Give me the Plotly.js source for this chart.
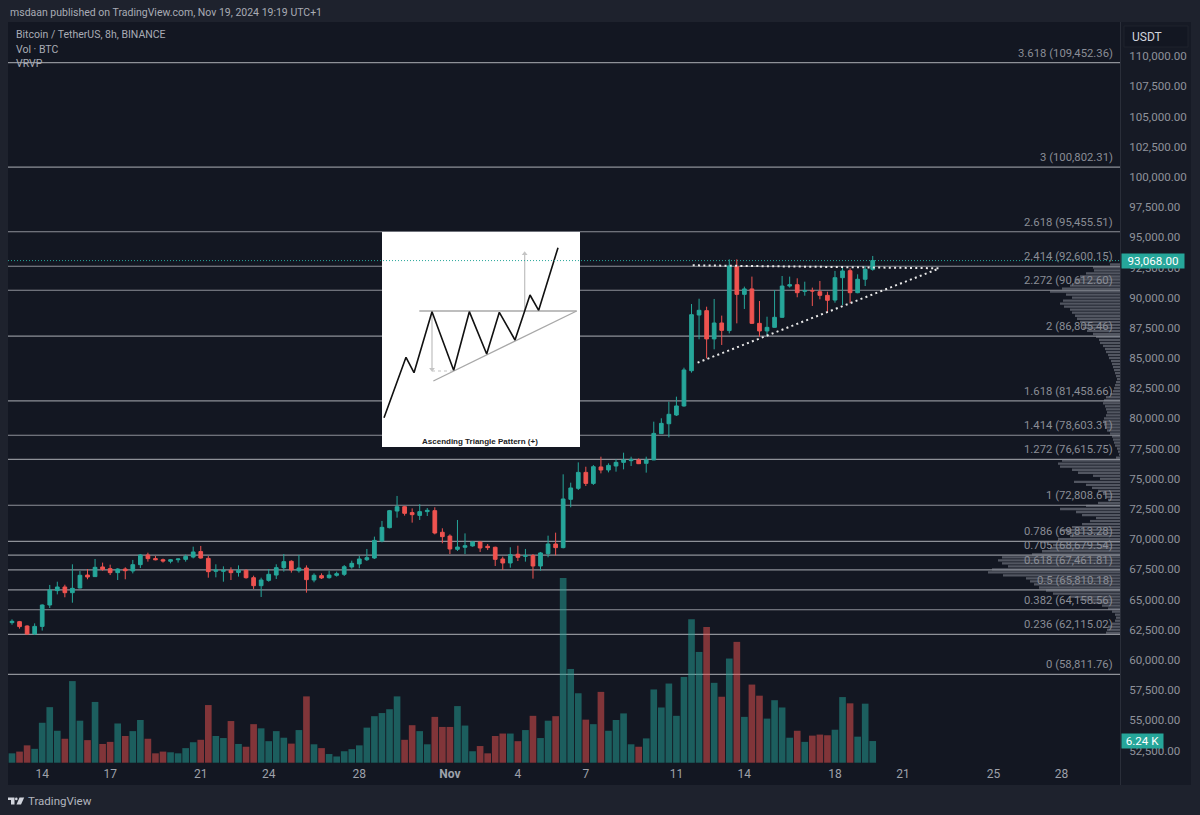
<!DOCTYPE html>
<html><head><meta charset="utf-8">
<script src="https://cdn.plot.ly/plotly-3.0.1.min.js"></script>
<style>html,body{margin:0;padding:0;background:#1e222d}#c{width:1200px;height:815px}</style></head>
<body><div id="c"></div>
<script>
const dates=["2024-10-12 16:00",
"2024-10-13 00:00","2024-10-13 08:00","2024-10-13 16:00","2024-10-14 00:00","2024-10-14 08:00","2024-10-14 16:00",
"2024-10-15 00:00","2024-10-15 08:00","2024-10-15 16:00","2024-10-16 00:00","2024-10-16 08:00","2024-10-16 16:00",
"2024-10-17 00:00","2024-10-17 08:00","2024-10-17 16:00","2024-10-18 00:00","2024-10-18 08:00","2024-10-18 16:00",
"2024-10-19 00:00","2024-10-19 08:00","2024-10-19 16:00","2024-10-20 00:00","2024-10-20 08:00","2024-10-20 16:00",
"2024-10-21 00:00","2024-10-21 08:00","2024-10-21 16:00","2024-10-22 00:00","2024-10-22 08:00","2024-10-22 16:00",
"2024-10-23 00:00","2024-10-23 08:00","2024-10-23 16:00","2024-10-24 00:00","2024-10-24 08:00","2024-10-24 16:00",
"2024-10-25 00:00","2024-10-25 08:00","2024-10-25 16:00","2024-10-26 00:00","2024-10-26 08:00","2024-10-26 16:00",
"2024-10-27 00:00","2024-10-27 08:00","2024-10-27 16:00","2024-10-28 00:00","2024-10-28 08:00","2024-10-28 16:00",
"2024-10-29 00:00","2024-10-29 08:00","2024-10-29 16:00","2024-10-30 00:00","2024-10-30 08:00","2024-10-30 16:00",
"2024-10-31 00:00","2024-10-31 08:00","2024-10-31 16:00","2024-11-01 00:00","2024-11-01 08:00","2024-11-01 16:00",
"2024-11-02 00:00","2024-11-02 08:00","2024-11-02 16:00","2024-11-03 00:00","2024-11-03 08:00","2024-11-03 16:00",
"2024-11-04 00:00","2024-11-04 08:00","2024-11-04 16:00","2024-11-05 00:00","2024-11-05 08:00","2024-11-05 16:00",
"2024-11-06 00:00","2024-11-06 08:00","2024-11-06 16:00","2024-11-07 00:00","2024-11-07 08:00","2024-11-07 16:00",
"2024-11-08 00:00","2024-11-08 08:00","2024-11-08 16:00","2024-11-09 00:00","2024-11-09 08:00","2024-11-09 16:00",
"2024-11-10 00:00","2024-11-10 08:00","2024-11-10 16:00","2024-11-11 00:00","2024-11-11 08:00","2024-11-11 16:00",
"2024-11-12 00:00","2024-11-12 08:00","2024-11-12 16:00","2024-11-13 00:00","2024-11-13 08:00","2024-11-13 16:00",
"2024-11-14 00:00","2024-11-14 08:00","2024-11-14 16:00","2024-11-15 00:00","2024-11-15 08:00","2024-11-15 16:00",
"2024-11-16 00:00","2024-11-16 08:00","2024-11-16 16:00","2024-11-17 00:00","2024-11-17 08:00","2024-11-17 16:00",
"2024-11-18 00:00","2024-11-18 08:00","2024-11-18 16:00","2024-11-19 00:00","2024-11-19 08:00","2024-11-19 16:00"];
const opens=[63090,63170,62810,62150,62780,64550,65740,66040,65570,65960,67030,66900,67700,67560,67230,67530,67370,67890,68690,68390,68300,68170,68300,68330,68520,68970,68410,67340,67340,67420,67250,67420,66810,66150,66590,67030,67640,68170,67390,67610,66620,66980,66810,67010,67090,67700,67950,68300,68440,69850,70950,72330,72690,72200,71970,72280,72360,70570,70260,69160,69330,69440,69770,69410,69330,68360,68030,68750,68580,68640,67780,68800,69600,69300,73300,74210,75530,74620,75980,75730,76060,76360,76500,76560,76280,76560,78740,79560,80280,81030,83950,88560,88920,86580,87900,87270,92560,90270,90720,87870,87240,87540,88370,90960,91070,90520,90580,90490,90190,89800,91650,92230,90410,91520,92340];
const highs=[63360,63230,62870,63030,64600,66210,66480,66230,67920,67370,67530,68360,68060,67890,67590,67670,68280,68770,68880,68610,68390,68360,68390,68720,69380,69440,68610,67920,67750,67670,67830,67500,66980,66810,67530,67920,68770,68250,68690,67830,67170,67170,67390,67310,67860,68220,68610,69190,70210,71510,72420,73580,72750,72550,72890,72580,72640,70900,70400,71590,70480,69850,69820,69600,69380,68550,69330,69460,69190,68770,68940,70290,70540,75370,74680,76360,76000,76140,76830,76280,76610,77160,76830,76690,76830,79730,80010,81390,81800,84200,89470,89910,89250,89890,88510,93170,93170,90910,91740,89720,88420,90630,91790,91740,91600,91320,90830,91380,90490,92210,92510,92430,91930,92620,93450];
const lows=[62920,62590,62090,62070,62430,64300,65430,65190,64740,65930,66680,66870,67390,67030,66620,66680,67170,67610,68140,68250,68060,68000,68060,68140,68410,68390,66810,66840,66480,66620,66900,66730,65880,65210,66480,66700,67310,67230,67230,65570,66430,66700,66730,66900,66950,67560,67590,68190,68360,69740,70900,71780,71950,71370,71590,71920,70400,69660,68770,69020,68770,69380,68940,69100,67780,67450,67640,68190,68140,66730,67390,68500,68660,69240,72640,74070,74400,74490,75450,75530,75590,75780,76060,76220,75510,76550,78710,78430,80200,80970,83790,86550,84970,85720,86080,87040,87870,89060,87820,86770,86820,87510,88340,90830,90030,90160,89310,89860,88760,89580,89390,89530,90360,90960,92230];
const closes=[63200,62760,62150,62780,64550,65790,66040,65570,65930,67010,66870,67670,67500,67230,67530,67390,67890,68690,68390,68300,68190,68300,68360,68580,68940,68440,67310,67450,67420,67230,67420,66810,66150,66620,67090,67640,68140,67450,67610,66650,67010,66790,67030,67140,67720,68000,68360,68470,69900,70980,72360,72690,72140,72030,72280,72390,70510,70210,69190,69350,69460,69770,69270,69300,68330,68030,68720,68500,68640,67780,68860,69600,69300,73330,74240,75530,74620,76000,75730,76110,76360,76560,76610,76250,76560,78760,79590,80340,81030,84010,88590,88950,86580,87900,87290,92620,90270,90720,87870,87240,87540,88370,90960,91070,90410,90580,90550,90190,89780,91650,92210,90410,91520,92340,93068];
const volumeK=[2.7,3.2,5.0,4.0,11.5,16.0,9.2,6.9,23.5,12.1,6.5,17.5,5.4,6.0,11.3,7.7,9.1,12.3,6.9,2.7,3.2,3.0,2.7,4.2,5.9,6.6,16.6,7.7,7.1,12.0,5.4,4.6,11.1,9.9,6.2,9.1,7.2,5.5,9.4,19.1,5.3,4.2,2.5,1.8,3.3,3.9,5.0,10.1,13.4,14.3,15.4,19.1,6.6,10.8,9.1,5.3,13.2,10.3,10.3,16.3,10.7,3.3,4.8,2.7,7.7,8.4,8.4,6.2,9.4,13.5,7.1,12.1,13.4,53.2,27.0,20.0,12.4,11.1,20.4,9.2,12.3,14.2,5.3,4.6,7.0,21.1,15.9,22.8,13.5,24.7,41.3,31.9,39.1,23.0,19.0,30.0,34.8,13.2,22.5,19.3,12.7,18.0,15.9,7.2,9.2,6.0,7.8,8.1,7.9,9.5,18.9,17.1,7.5,17.0,6.24];
const fibRatios=["3.618","3","2.618","2.414","2.272","2","1.618","1.414","1.272","1","0.786","0.705","0.618","0.5","0.382","0.236","0"];
const fibPrices=[109452.36,100802.31,95455.51,92600.15,90612.60,86805.46,81458.66,78603.31,76615.75,72808.61,69813.28,68679.54,67461.81,65810.18,64158.56,62115.02,58811.76];
const priceTicks=[52500,55000,57500,60000,62500,65000,67500,70000,72500,75000,77500,80000,82500,85000,87500,90000,92500,95000,97500,100000,102500,105000,107500,110000];
const tickDates=["2024-10-14","2024-10-17","2024-10-21","2024-10-24","2024-10-28","2024-11-01","2024-11-04","2024-11-07","2024-11-11","2024-11-14","2024-11-18","2024-11-21","2024-11-25","2024-11-28"];
const tickLabels=["14","17","21","24","28","<b>Nov</b>","4","7","11","14","18","21","25","28"];
const vpPrices=[92750,92500,92250,92000,91750,91500,91250,91000,90750,90500,90250,90000,89750,89500,89250,89000,88750,88500,88250,88000,87750,87500,87250,87000,86750,86500,86250,86000,85750,85500,85250,85000,84750,84500,84250,84000,83750,83500,83250,83000,82750,82500,82250,82000,81750,81500,81250,81000,80750,80500,80250,80000,79750,79500,79250,79000,78750,78500,78250,78000,77750,77500,77250,77000,76750,76500,76250,76000,75750,75500,75250,75000,74750,74500,74250,74000,73750,73500,73250,73000,72750,72500,72250,72000,71750,71500,71250,71000,70750,70500,70250,70000,69750,69500,69250,69000,68750,68500,68250,68000,67750,67500,67250,67000,66750,66500,66250,66000,65750,65500,65250,65000,64750,64500,64250,64000,63750,63500,63250,63000,62750,62500,62250];
const vpVolume=[10,27,26,34,40,44,46,50,58,70,54,48,57,60,56,50,48,45,43,40,38,37,33,27,24,21,20,17,15,14,12,11,9,8,7,6,5,4,3,4,5,6,7,10,14,16,17,15,14,13,14,16,17,16,15,13,10,8,7,6,5,3,2,1,4,58,62,60,48,42,27,20,46,34,28,22,17,14,12,22,34,60,44,38,24,30,38,48,60,54,50,62,80,67,70,78,88,118,122,118,112,128,132,117,94,90,86,81,74,67,50,40,28,18,12,8,5,4,5,8,12,13,14];
const trendTopX=["2024-11-11 17:15","2024-11-22 15:00"], trendTopY=[92677,92429];
const trendLowX=["2024-11-11 22:25","2024-11-22 13:00"], trendLowY=[84613,92371];
const insetPriceX=[27,93,117,171,236,283,335,373,420,465,491,549], insetPriceY=[578,397,443,260,436,260,387,262,345,210,256,68];
const insetTopX=[133,605], insetTopY=[258,258];
const insetLowX=[175,605], insetLowY=[468,258];
const insetDownX=[171,171], insetDownY=[262,432];
const insetDashX=[171,236], insetDashY=[438,438];
const insetUpX=[449,449], insetUpY=[258,86];

const TEAL='#26a69a', RED='#ef5350', FONT='Roboto, sans-serif';
const L=8,R=1120,T=22,B=765;
const px=x=>(x-L)/(R-L), py=y=>1-(y-T)/(B-T);
const barColors=closes.map((c,i)=>c>=opens[i]?'rgba(38,166,154,0.5)':'rgba(239,83,80,0.5)');
const hide={visible:false,fixedrange:true};

const traces=[
 {type:'bar',x:dates,y:volumeK,xaxis:'x',yaxis:'y',width:8*3600e3*0.88,marker:{color:barColors,line:{width:0}},hoverinfo:'skip',showlegend:false},
 {type:'bar',orientation:'h',x:vpVolume,y:vpPrices,xaxis:'x2',yaxis:'y2',width:190,marker:{color:'rgba(135,139,150,0.55)',line:{width:0}},hoverinfo:'skip',showlegend:false},
 {type:'candlestick',x:dates,open:opens,high:highs,low:lows,close:closes,xaxis:'x',yaxis:'y2',whiskerwidth:0,
  increasing:{line:{color:TEAL,width:1},fillcolor:TEAL},decreasing:{line:{color:RED,width:1},fillcolor:RED},hoverinfo:'skip',showlegend:false},
 {type:'scatter',mode:'lines',x:trendTopX,y:trendTopY,xaxis:'x',yaxis:'y2',line:{color:'#e8e8e8',width:2,dash:'2px,3.3px'},hoverinfo:'skip',showlegend:false},
 {type:'scatter',mode:'lines',x:trendLowX,y:trendLowY,xaxis:'x',yaxis:'y2',line:{color:'#e8e8e8',width:2,dash:'2px,3.3px'},hoverinfo:'skip',showlegend:false},
 {type:'scatter',mode:'lines',x:insetDownX,y:insetDownY,xaxis:'x3',yaxis:'y3',line:{color:'#c4c4c4',width:1.3},hoverinfo:'skip',showlegend:false},
 {type:'scatter',mode:'lines',x:insetDashX,y:insetDashY,xaxis:'x3',yaxis:'y3',line:{color:'#c4c4c4',width:1.2,dash:'3px,3px'},hoverinfo:'skip',showlegend:false},
 {type:'scatter',mode:'markers',x:[171],y:[433],xaxis:'x3',yaxis:'y3',marker:{symbol:'triangle-down',size:5,color:'#c4c4c4'},hoverinfo:'skip',showlegend:false},
 {type:'scatter',mode:'lines',x:insetUpX,y:insetUpY,xaxis:'x3',yaxis:'y3',line:{color:'#c4c4c4',width:1.3},hoverinfo:'skip',showlegend:false},
 {type:'scatter',mode:'markers',x:[449],y:[86],xaxis:'x3',yaxis:'y3',marker:{symbol:'triangle-up',size:5,color:'#c4c4c4'},hoverinfo:'skip',showlegend:false},
 {type:'scatter',mode:'lines',x:insetTopX,y:insetTopY,xaxis:'x3',yaxis:'y3',line:{color:'#a8a8a8',width:1.3},hoverinfo:'skip',showlegend:false},
 {type:'scatter',mode:'lines',x:insetLowX,y:insetLowY,xaxis:'x3',yaxis:'y3',line:{color:'#a8a8a8',width:1.3},hoverinfo:'skip',showlegend:false},
 {type:'scatter',mode:'lines',x:insetPriceX,y:insetPriceY,xaxis:'x3',yaxis:'y3',line:{color:'#111111',width:1.6},hoverinfo:'skip',showlegend:false}
];

const rect=(x0,y0,x1,y1,fill,line)=>({type:'rect',xref:'paper',yref:'paper',x0:px(x0),x1:px(x1),y0:py(y0),y1:py(y1),fillcolor:fill,line:{width:line?1:0,color:line||fill},layer:'below'});
const poly=(pts,fill)=>({type:'path',xref:'paper',yref:'paper',path:'M'+pts.map(p=>px(p[0])+','+py(p[1])).join('L')+'Z',fillcolor:fill,line:{width:0},layer:'above'});
const shapes=[
 rect(8,765,1191,785,'#131722'),
 rect(1120,22,1191,785,'#161a25'),
 {type:'line',xref:'paper',yref:'paper',x0:px(1120.5),x1:px(1120.5),y0:py(22),y1:py(785),line:{color:'#2a2e39',width:1},layer:'below'},
 rect(1124,26,1188,47,'#131722','#1e222d'),
 ...fibPrices.map(p=>({type:'line',xref:'paper',yref:'y2',x0:0,x1:1,y0:p,y1:p,line:{color:'#8e9198',width:1.2},layer:'below'})),
 {type:'rect',xref:'x3',yref:'y3',x0:21,x1:615,y0:21,y1:666,fillcolor:'#ffffff',line:{width:0},layer:'below'},
 {type:'line',xref:'paper',yref:'y2',x0:0,x1:1,y0:closes[closes.length-1],y1:closes[closes.length-1],line:{color:TEAL,width:1,dash:'1px,2px'},layer:'above'},
 poly([[8,797.5],[14.5,797.5],[14.5,804.5],[11,804.5],[11,800],[8,800]],'#d1d4dc'),
 {type:'circle',xref:'paper',yref:'paper',x0:px(15),x1:px(17.6),y0:py(800.2),y1:py(797.6),fillcolor:'#d1d4dc',line:{width:0},layer:'above'},
 poly([[19.5,797.5],[24.2,797.5],[21,804.5],[16.5,804.5]],'#d1d4dc')
];

const note=(text,x,y,size,color,extra)=>Object.assign({text,xref:'paper',yref:'paper',x:px(x),y:py(y),xanchor:'left',yanchor:'middle',showarrow:false,font:{family:FONT,size,color}},extra||{});
const annotations=[
 note('msdaan published on TradingView.com, Nov 19, 2024 19:19 UTC+1',7.5,13,10.5,'#a9acb5'),
 note('Bitcoin / TetherUS, 8h, BINANCE',14,35,10.5,'#a9acb5'),
 note('Vol · BTC',14,49,10.5,'#a9acb5'),
 note('VRVP',14,63,10.5,'#a9acb5'),
 note('TradingView',26,801,11.5,'#b2b5be'),
 note('USDT',1130,36.5,12,'#d1d4dc'),
 note('Ascending Triangle Pattern (+)',480,441,8,'#222222',{xanchor:'center',font:{family:'"Liberation Sans", sans-serif',size:8,color:'#222222',weight:700}}),
 ...fibPrices.map((p,i)=>({text:fibRatios[i]+' ('+p.toLocaleString('en-US',{minimumFractionDigits:2,maximumFractionDigits:2})+')',xref:'paper',yref:'y2',x:px(1115),y:p,xanchor:'right',yanchor:'middle',yshift:9.5,showarrow:false,font:{family:FONT,size:11.3,color:'#8a8d96'}})),
 {text:'93,068.00',xref:'paper',yref:'y2',x:px(1120.7),y:closes[closes.length-1],xanchor:'left',yanchor:'middle',showarrow:false,bgcolor:TEAL,width:62,height:14,borderpad:0,font:{family:FONT,size:11.6,color:'#ffffff'}},
 {text:'6.24 K',xref:'paper',yref:'y',x:px(1120.7),y:volumeK[volumeK.length-1],xanchor:'left',yanchor:'middle',showarrow:false,bgcolor:TEAL,width:41,height:14,borderpad:0,font:{family:FONT,size:11.6,color:'#ffffff'}}
];

const layout={
 width:1200,height:815,paper_bgcolor:'#1e222d',plot_bgcolor:'#131722',showlegend:false,hovermode:false,
 margin:{l:L,r:1200-R,t:T,b:815-B,pad:0},barmode:'overlay',
 xaxis:{type:'date',range:['2024-10-12 11:46','2024-11-30 14:00'],rangeslider:{visible:false},showgrid:false,zeroline:false,showline:false,
  tickmode:'array',tickvals:tickDates,ticktext:tickLabels,ticks:'',tickfont:{family:FONT,size:12,color:'#9ea1aa'},fixedrange:true},
 yaxis:{...hide,range:[-0.66,213.3]},
 xaxis2:{...hide,overlaying:'x',range:[1112,0],anchor:'y2'},
 yaxis2:{overlaying:'y',side:'right',anchor:'x',range:[51302,112822],tickmode:'array',tickvals:priceTicks,tickformat:',.2f',showgrid:false,zeroline:false,showline:false,
  ticks:'outside',ticklen:6,tickcolor:'rgba(0,0,0,0)',tickfont:{family:FONT,size:11.6,color:'#8f929b'},fixedrange:true},
 xaxis3:{...hide,domain:[px(382),px(580)],range:[21,615],anchor:'y3'},
 yaxis3:{...hide,domain:[py(447),py(232)],range:[666,21],anchor:'x3'},
 shapes,annotations
};
Plotly.newPlot('c',traces,layout,{displayModeBar:false,responsive:false,staticPlot:true});
</script></body></html>
